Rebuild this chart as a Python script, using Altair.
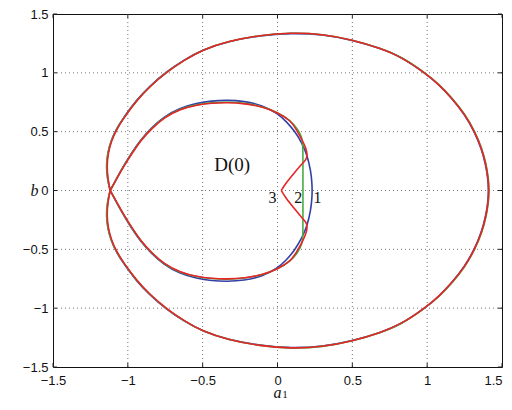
import altair as alt
import pandas as pd

# ---------------- data ----------------
TICKS = [-1.5, -1.0, -0.5, 0.0, 0.5, 1.0, 1.5]
GRID = [-1.0, -0.5, 0.0, 0.5, 1.0]

# outer loop (curve 3, red) : crossing -> top -> right -> bottom -> crossing
RED_OUTER_X = [-1.118, -1.134, -1.140, -1.131, -1.110, -1.075, -1.025, -0.939, -0.852, -0.738,
               -0.620, -0.500, -0.330, -0.114, 0.087, 0.300, 0.500, 0.689, 0.823, 0.979,
               1.080, 1.168, 1.250, 1.318, 1.365, 1.392, 1.407, 1.413,
               1.407, 1.392, 1.365, 1.318, 1.250, 1.168, 1.080, 0.979, 0.823, 0.689,
               0.500, 0.300, 0.087, -0.114, -0.330, -0.500, -0.620, -0.738, -0.852, -0.939,
               -1.025, -1.075, -1.110, -1.131, -1.140, -1.134, -1.118]
RED_OUTER_Y = [0.000, 0.100, 0.215, 0.320, 0.420, 0.520, 0.620, 0.767, 0.885, 1.009,
               1.110, 1.197, 1.270, 1.321, 1.341, 1.330, 1.280, 1.208, 1.138, 1.005,
               0.900, 0.780, 0.650, 0.500, 0.355, 0.225, 0.110, 0.000,
               -0.110, -0.225, -0.355, -0.500, -0.650, -0.780, -0.900, -1.005, -1.138, -1.208,
               -1.280, -1.330, -1.343, -1.321, -1.270, -1.197, -1.110, -1.009, -0.885, -0.767,
               -0.620, -0.520, -0.420, -0.320, -0.215, -0.100, 0.000]

GREEN_OUTER_X = [-1.118, -1.138, -1.145, -1.135, -1.113, -1.077, -1.026, -0.940, -0.853, -0.739,
                 -0.621, -0.500, -0.330, -0.114, 0.087, 0.300, 0.501, 0.690, 0.825, 0.981,
                 1.082, 1.170, 1.252, 1.320, 1.367, 1.394, 1.409, 1.415,
                 1.409, 1.394, 1.367, 1.320, 1.252, 1.170, 1.082, 0.981, 0.825, 0.690,
                 0.501, 0.300, 0.087, -0.114, -0.330, -0.500, -0.621, -0.739, -0.853, -0.940,
                 -1.026, -1.077, -1.113, -1.135, -1.145, -1.138, -1.118]
GREEN_OUTER_Y = [0.000, 0.100, 0.215, 0.320, 0.420, 0.520, 0.620, 0.767, 0.885, 1.009,
                 1.110, 1.197, 1.270, 1.321, 1.341, 1.331, 1.281, 1.209, 1.139, 1.006,
                 0.901, 0.781, 0.651, 0.500, 0.355, 0.225, 0.110, 0.000,
                 -0.110, -0.225, -0.355, -0.500, -0.651, -0.781, -0.901, -1.006, -1.139, -1.209,
                 -1.281, -1.331, -1.343, -1.321, -1.270, -1.197, -1.110, -1.009, -0.885, -0.767,
                 -0.620, -0.520, -0.420, -0.320, -0.215, -0.100, 0.000]

BLUE_OUTER_X = [-1.118, -1.136, -1.143, -1.134, -1.113, -1.079, -1.029, -0.944, -0.857, -0.743,
                -0.624, -0.503, -0.331, -0.114, 0.087, 0.300, 0.500, 0.688, 0.822, 0.978,
                1.078, 1.166, 1.248, 1.316, 1.363, 1.390, 1.405, 1.411,
                1.405, 1.390, 1.363, 1.316, 1.248, 1.166, 1.078, 0.978, 0.822, 0.688,
                0.500, 0.300, 0.087, -0.114, -0.331, -0.503, -0.624, -0.743, -0.857, -0.944,
                -1.029, -1.079, -1.113, -1.134, -1.143, -1.136, -1.118]
BLUE_OUTER_Y = [0.000, 0.100, 0.215, 0.320, 0.420, 0.520, 0.620, 0.767, 0.885, 1.009,
                1.110, 1.196, 1.268, 1.318, 1.338, 1.328, 1.279, 1.208, 1.139, 1.006,
                0.901, 0.781, 0.650, 0.500, 0.355, 0.225, 0.110, 0.000,
                -0.110, -0.225, -0.355, -0.500, -0.650, -0.781, -0.901, -1.006, -1.139, -1.208,
                -1.279, -1.328, -1.341, -1.318, -1.268, -1.196, -1.110, -1.009, -0.885, -0.767,
                -0.620, -0.520, -0.420, -0.320, -0.215, -0.100, 0.000]

# inner loops
BLUE_INNER_X = [-1.118, -1.072, -1.026, -0.975, -0.918, -0.845, -0.762, -0.655, -0.540, -0.440,
                -0.337, -0.225, -0.100, 0.000, 0.060, 0.115, 0.165, 0.198, 0.222, 0.230, 0.232,
                0.230, 0.222, 0.198, 0.165, 0.115, 0.060, 0.000, -0.100, -0.225, -0.337,
                -0.440, -0.540, -0.655, -0.762, -0.845, -0.918, -0.975, -1.026, -1.072, -1.118]
BLUE_INNER_Y = [0.000, 0.110, 0.215, 0.320, 0.425, 0.530, 0.625, 0.700, 0.742, 0.762,
                0.768, 0.760, 0.725, 0.655, 0.585, 0.505, 0.400, 0.300, 0.170, 0.070, 0.000,
                -0.070, -0.170, -0.300, -0.400, -0.508, -0.590, -0.660, -0.730, -0.766, -0.773,
                -0.767, -0.747, -0.705, -0.628, -0.532, -0.427, -0.321, -0.215, -0.110, 0.000]

GREEN_INNER_X = [-1.118, -1.071, -1.024, -0.972, -0.914, -0.840, -0.759, -0.652, -0.538, -0.440,
                 -0.337, -0.222, -0.097, 0.000, 0.087, 0.140, 0.163, 0.170, 0.170, 0.170,
                 0.170, 0.170, 0.165, 0.140, 0.090, 0.000, -0.097, -0.222, -0.337, -0.440,
                 -0.538, -0.652, -0.759, -0.840, -0.914, -0.972, -1.024, -1.071, -1.118]
GREEN_INNER_Y = [0.000, 0.110, 0.215, 0.320, 0.427, 0.530, 0.622, 0.695, 0.731, 0.746,
                 0.752, 0.744, 0.713, 0.665, 0.597, 0.515, 0.450, 0.395, 0.200, 0.000,
                 -0.200, -0.400, -0.450, -0.520, -0.600, -0.668, -0.716, -0.748, -0.756, -0.750,
                 -0.735, -0.699, -0.626, -0.533, -0.429, -0.321, -0.215, -0.110, 0.000]

RED_INNER_TOP_X = [-1.118, -1.070, -1.022, -0.970, -0.912, -0.838, -0.757, -0.650, -0.537, -0.440,
                   -0.337, -0.220, -0.095, 0.000, 0.087, 0.125, 0.165, 0.190, 0.200, 0.193,
                   0.165, 0.109, 0.054, 0.025]
RED_INNER_TOP_Y = [0.000, 0.110, 0.215, 0.320, 0.428, 0.530, 0.620, 0.692, 0.728, 0.743,
                   0.748, 0.740, 0.710, 0.662, 0.597, 0.520, 0.430, 0.360, 0.305, 0.262,
                   0.230, 0.145, 0.060, 0.000]
RED_INNER_BOT_X = [0.025, 0.054, 0.109, 0.165, 0.193, 0.200, 0.190, 0.165, 0.125, 0.087,
                   0.000, -0.095, -0.220, -0.337, -0.440, -0.537, -0.650, -0.757, -0.838, -0.912,
                   -0.970, -1.022, -1.070, -1.118]
RED_INNER_BOT_Y = [0.000, -0.062, -0.148, -0.236, -0.270, -0.315, -0.370, -0.440, -0.528, -0.602,
                   -0.668, -0.715, -0.745, -0.753, -0.748, -0.733, -0.697, -0.625, -0.533, -0.430,
                   -0.322, -0.215, -0.110, 0.000]

LABELS = ["D(0)", "1", "2", "3"]
LABEL_X = [-0.303, 0.268, 0.138, -0.033]
LABEL_Y = [0.219, -0.061, -0.061, -0.061]
LABEL_FS = [19, 16, 16, 16]
SUBSCRIPT = ["1"]

BLUE, GREEN, RED = "#3341a6", "#46ad46", "#e62626"

# ---------------- chart ----------------
W, H = 449, 353

XS = alt.Scale(domain=[-1.5, 1.5], nice=False, zero=False)
YS = alt.Scale(domain=[-1.5, 1.5], nice=False, zero=False)

common_axis = dict(values=TICKS, format="~g", grid=False, ticks=False, tickSize=0, domain=False,
                   labelFlush=False, labelOverlap=False, labelFont="Liberation Sans",
                   labelFontSize=13, labelColor="#111", titleFont="Liberation Serif",
                   titleFontStyle="italic", titleFontWeight="normal", titleFontSize=16,
                   titleColor="#111", titleAlign="center", titleBaseline="alphabetic")
XAX = alt.Axis(labelPadding=7, title="a", titleX=224, titleY=30,
               labelAlign={"condition": {"test": "datum.value >= 1.5", "value": "right"},
                           "value": "center"},
               **common_axis)
YAX = alt.Axis(labelPadding=5, title="b", titleAngle=0, titleX=-19, titleY=181, **common_axis)


def X(f):
    return alt.X(f, type="quantitative", scale=XS, axis=XAX)


def Y(f):
    return alt.Y(f, type="quantitative", scale=YS, axis=YAX)


def frame(parts):
    rows = []
    for seg, xs, ys in parts:
        for i, (x, y) in enumerate(zip(xs, ys)):
            rows.append({"seg": seg, "i": i, "x": x, "y": y})
    return pd.DataFrame(rows)


def curve(df, color):
    return alt.Chart(df).mark_line(color=color, strokeWidth=1.6, interpolate="basis").encode(
        x=X("x"), y=Y("y"), detail="seg:N", order="i:Q")


grid_df = pd.DataFrame({"v": GRID})
tick_df = pd.DataFrame({"v": TICKS})
grid_style = dict(color="#666", strokeWidth=0.9, strokeDash=[1, 3])

gx = alt.Chart(grid_df).mark_rule(**grid_style).encode(x=X("v"))
gy = alt.Chart(grid_df).mark_rule(**grid_style).encode(y=Y("v"))

tick_style = dict(color="#222", strokeWidth=1)
tb = alt.Chart(tick_df).mark_rule(**tick_style).encode(x=X("v"), y=alt.value(H), y2=alt.value(H - 4))
tt = alt.Chart(tick_df).mark_rule(**tick_style).encode(x=X("v"), y=alt.value(0), y2=alt.value(4))
tl = alt.Chart(tick_df).mark_rule(**tick_style).encode(y=Y("v"), x=alt.value(0), x2=alt.value(4))
tr = alt.Chart(tick_df).mark_rule(**tick_style).encode(y=Y("v"), x=alt.value(W), x2=alt.value(W - 4))

blue = curve(frame([("outer", BLUE_OUTER_X, BLUE_OUTER_Y), ("inner", BLUE_INNER_X, BLUE_INNER_Y)]), BLUE)
green = curve(frame([("outer", GREEN_OUTER_X, GREEN_OUTER_Y), ("inner", GREEN_INNER_X, GREEN_INNER_Y)]), GREEN)
red = curve(frame([("outer", RED_OUTER_X, RED_OUTER_Y),
                   ("itop", RED_INNER_TOP_X, RED_INNER_TOP_Y),
                   ("ibot", RED_INNER_BOT_X, RED_INNER_BOT_Y)]), RED)

ann_df = pd.DataFrame({"label": LABELS, "x": LABEL_X, "y": LABEL_Y, "fs": LABEL_FS})
ann = alt.Chart(ann_df).mark_text(font="Liberation Serif", color="#111", baseline="middle",
                                  align="center").encode(
    x=X("x"), y=Y("y"), text="label:N", size=alt.Size("fs:Q", scale=None))

sub = alt.Chart(pd.DataFrame({"t": SUBSCRIPT})).mark_text(
    font="Liberation Serif", fontSize=11, baseline="alphabetic", align="center", color="#111"
).encode(x=alt.value(232), y=alt.value(384), text="t:N")

chart = alt.layer(gx, gy, blue, green, red, tb, tt, tl, tr, ann, sub).properties(
    width=W, height=H,
    autosize=alt.AutoSizeParams(type="none"),
    padding={"left": 45, "top": 6, "right": 2, "bottom": 34},
    background="white",
).configure_view(stroke="#111", strokeWidth=1)

chart.save("out.html", embed_options={"renderer": "svg", "actions": False})
